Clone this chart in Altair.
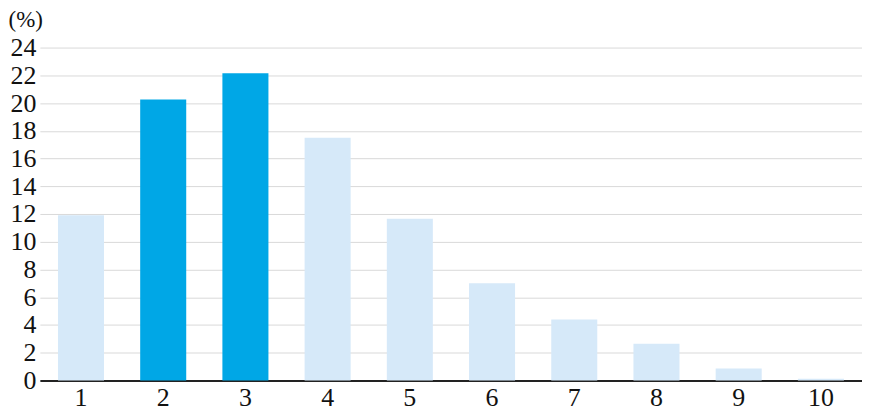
import altair as alt
import pandas as pd

categories = ["1", "2", "3", "4", "5", "6", "7", "8", "9", "10"]
values = [11.9, 20.25, 22.15, 17.5, 11.65, 7.0, 4.4, 2.65, 0.85, 0.12]
highlight = [False, True, True, False, False, False, False, False, False, False]

df = pd.DataFrame({"cat": categories, "val": values, "hl": highlight})

FONT = "Liberation Serif"

chart = alt.Chart(df).mark_bar().encode(
    x=alt.X("cat:N", sort=categories, title=None,
            scale=alt.Scale(paddingInner=0.44, paddingOuter=0.22),
            axis=alt.Axis(labelAngle=0, labelFont=FONT, labelFontSize=26,
                          labelColor="#111", ticks=False, domainColor="#222",
                          domainWidth=2, labelPadding=4, grid=False)),
    y=alt.Y("val:Q", scale=alt.Scale(domain=[0, 24], nice=False),
            axis=alt.Axis(values=list(range(0, 25, 2)), title="(%)", titleAngle=0,
                          titleAlign="left", titleBaseline="alphabetic",
                          titleX=-32, titleY=-21, titleFont=FONT,
                          titleFontSize=23, titleFontWeight="normal", titleColor="#111",
                          labelFont=FONT, labelFontSize=26, labelColor="#111",
                          ticks=False, domain=False, gridColor="#d9d9d9",
                          gridWidth=1, labelPadding=4)),
    color=alt.Color("hl:N", scale=alt.Scale(domain=[False, True],
                                            range=["#d6e9f9", "#00a7e6"]), legend=None),
).properties(width=825, height=334, padding={"left": 0, "top": 0, "right": 0, "bottom": 0}
).configure_view(stroke=None)

chart.save("out.html", embed_options={"renderer": "svg", "actions": False})
